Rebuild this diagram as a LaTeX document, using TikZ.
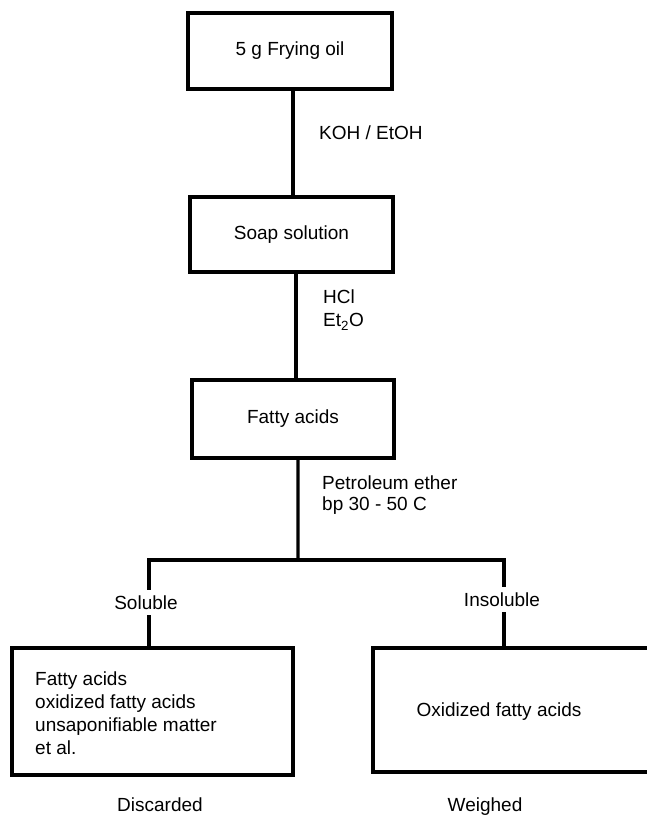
\documentclass[tikz,border=0pt]{standalone}
\usepackage{fontspec}
\setmainfont{Liberation Sans}
\begin{document}
\begin{tikzpicture}[x=1bp,y=-1bp,
  every node/.style={font=\fontsize{19bp}{23bp}\selectfont, inner sep=0pt},
  box/.style={draw, line width=3.2bp, rectangle},
  link/.style={line width=3.2bp},
  lbl/.style={align=left}]
\useasboundingbox (0,0) rectangle (647,817);
% boxes
\node[box, minimum width=204bp, minimum height=76bp] (oil) at (290,51) {5 g Frying oil};
\node[box, minimum width=203bp, minimum height=75bp] (soap) at (291.5,234.5) {Soap solution};
\node[box, minimum width=202bp, minimum height=78bp] (fatty) at (293,419) {Fatty acids};
\node[box, minimum width=281bp, minimum height=127bp] (left) at (152.5,711.5) {};
\node[box, minimum width=327bp, minimum height=124bp] (right) at (536.5,710) {};
\node[lbl, anchor=north west] (ltext) at (35,672) {Fatty acids\\oxidized fatty acids\\unsaponifiable matter\\et al.};
\node (rtext) at (499,712) {Oxidized fatty acids};
% reagent labels
\node[lbl, anchor=west] (koh) at (319,133) {KOH / EtOH};
\node[lbl, anchor=north west] (hcl) at (323,290) {HCl\\Et\textsubscript{2}O};
\node[lbl, anchor=north west, font=\fontsize{19bp}{21bp}\selectfont] (pet) at (322,476) {Petroleum ether\\bp 30 - 50 C};
% branch labels
\node (sol) at (146,603) {Soluble};
\node (insol) at (502,600) {Insoluble};
\node (disc) at (160,805) {Discarded};
\node (weigh) at (485,807) {Weighed};
% connectors
\coordinate (split) at (298,560);
\coordinate (sl) at (149,560);
\coordinate (sr) at (504,560);
\draw[link] ([xshift=3bp]oil.south) -- ([xshift=3bp]oil.south |- soap.north);
\draw[link] ([xshift=4.5bp]soap.south) -- ([xshift=4.5bp]soap.south |- fatty.north);
\draw[link] ([xshift=5bp]fatty.south) -- (split);
\draw[link, line cap=rect] (sl) -- (sr);
\draw[link] (sl) -- ([yshift=6bp]sl |- sol.north);
\draw[link] ([yshift=-5bp]sl |- sol.south) -- (sl |- left.north);
\draw[link] (sr) -- ([yshift=6bp]sr |- insol.north);
\draw[link] ([yshift=-5bp]sr |- insol.south) -- (sr |- right.north);
\end{tikzpicture}
\end{document}
